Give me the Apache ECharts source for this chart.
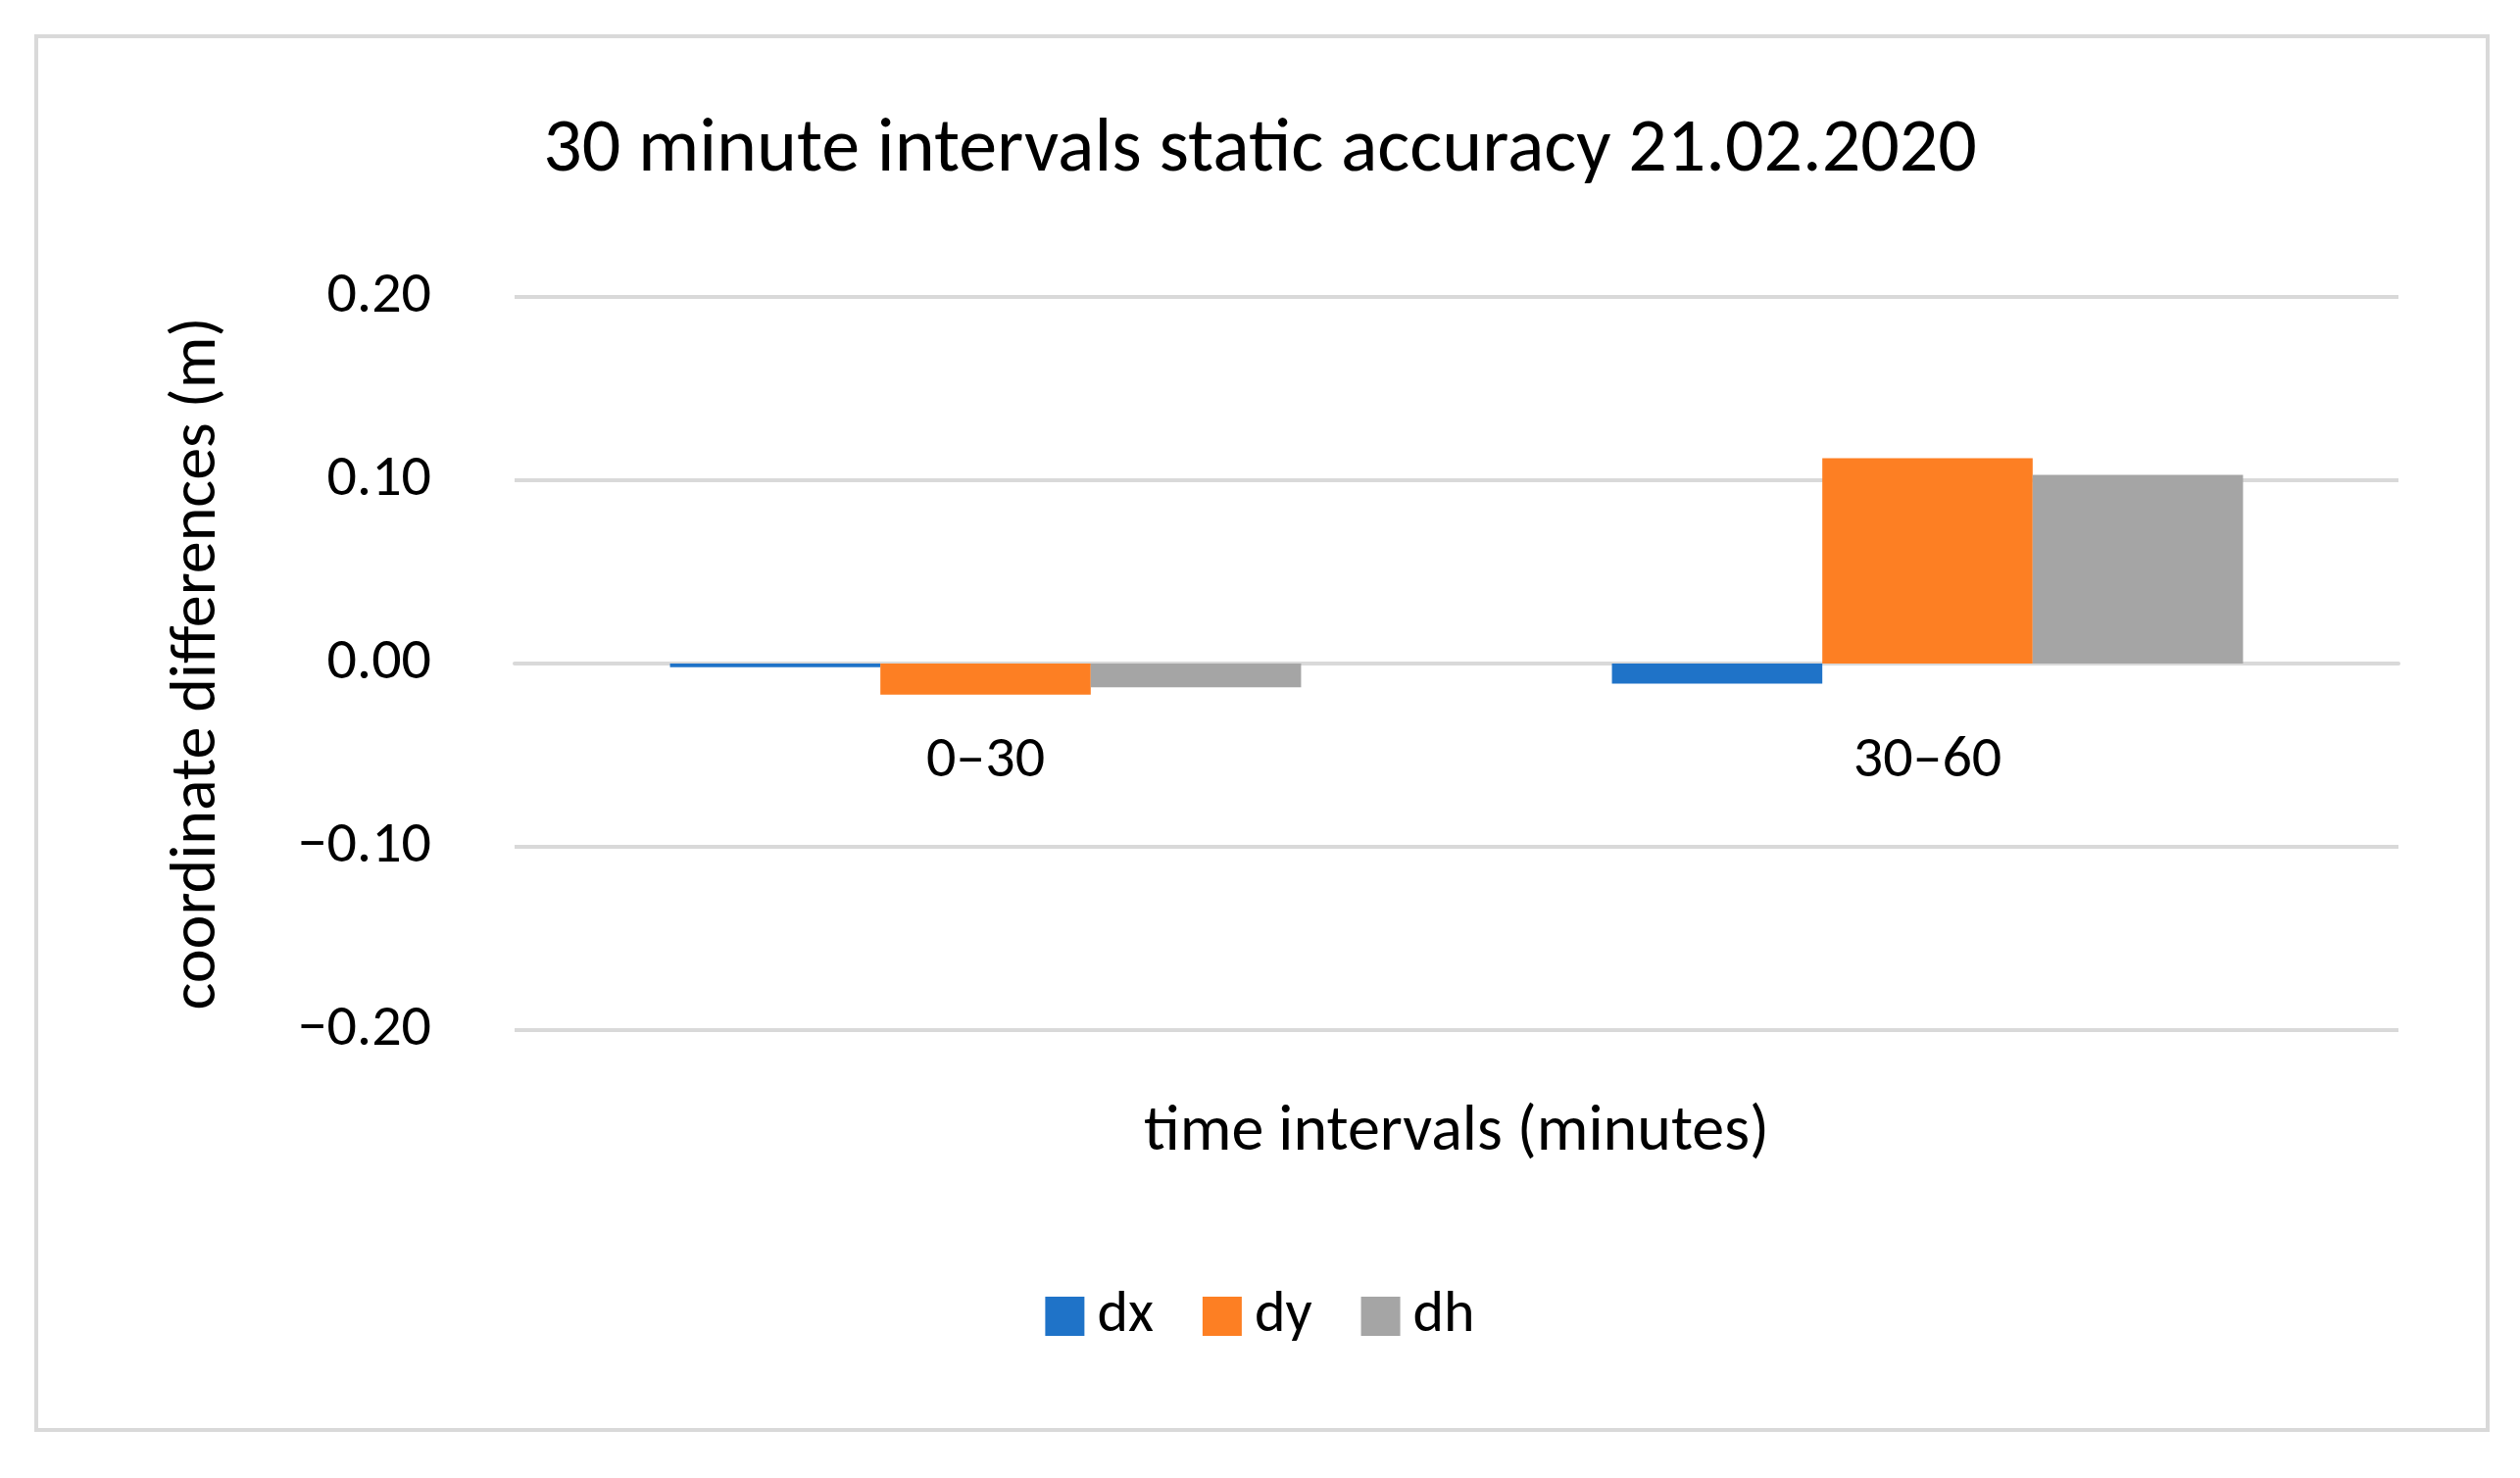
<!DOCTYPE html>
<html>
<head>
<meta charset="utf-8">
<script src="https://cdn.jsdelivr.net/npm/echarts@6/dist/echarts.min.js"></script>
<style>
html,body{margin:0;padding:0;background:#fff;}
#chart{width:2571px;height:1508px;}
</style>
</head>
<body>
<div id="chart"></div>
<script>
var categories = ['0\u201330', '30\u201360'];
var dxValues = [-0.002, -0.011];
var dyValues = [-0.017, 0.112];
var dhValues = [-0.013, 0.103];
var seriesNames = ['dx', 'dy', 'dh'];
var seriesColors = ['#1f73c8', '#fd7f23', '#a5a5a5'];

var font = 'Carlito, Calibri, "Open Sans", sans-serif';
var myChart = echarts.init(document.getElementById('chart'));

function makeSeries(name, data, color){
    return {
        name: name,
        type: 'bar',
        data: data,
        barGap: '0%',
        barCategoryGap: '33%',
        itemStyle: {color: color}
    };
}

var option = {
    backgroundColor: '#fff',
    graphic: [{
        type: 'rect',
        shape: {x: 37, y: 37, width: 2501, height: 1422},
        style: {fill: 'none', stroke: '#d9d9d9', lineWidth: 4}
    }],
    title: {
        text: '30 minute intervals static accuracy 21.02.2020',
        left: 'center',
        top: 110,
        textStyle: {fontFamily: font, fontSize: 78, fontWeight: 'normal', color: '#000'}
    },
    legend: {
        data: seriesNames,
        bottom: 130,
        left: 'center',
        itemWidth: 40,
        itemHeight: 40,
        itemGap: 50,
        icon: 'rect',
        textStyle: {fontFamily: font, fontSize: 60, color: '#000', padding: [0, 0, 0, 8]}
    },
    grid: {left: 525, right: 124, top: 303, bottom: 457, containLabel: false, outerBoundsMode: 'none'},
    xAxis: {
        type: 'category',
        data: categories,
        offset: -374,
        name: 'time intervals (minutes)',
        nameLocation: 'middle',
        nameGap: 446,
        nameTextStyle: {fontFamily: font, fontSize: 66, color: '#000'},
        axisLine: {onZero: false, lineStyle: {color: '#d9d9d9', width: 4}},
        axisTick: {show: false},
        axisLabel: {fontFamily: font, fontSize: 60, color: '#000', margin: 70}
    },
    yAxis: {
        type: 'value',
        min: -0.2,
        max: 0.2,
        interval: 0.1,
        name: 'coordinate differences (m)',
        nameLocation: 'middle',
        nameGap: 290,
        nameTextStyle: {fontFamily: font, fontSize: 66, color: '#000'},
        axisLine: {show: false},
        axisTick: {show: false},
        axisLabel: {
            fontFamily: font, fontSize: 60, color: '#000', margin: 85,
            formatter: function(v){
                var s = Math.abs(v).toFixed(2);
                return v < -1e-9 ? '\u2212' + s : s;
            }
        },
        splitLine: {lineStyle: {color: '#d9d9d9', width: 4}}
    },
    series: [
        makeSeries(seriesNames[0], dxValues, seriesColors[0]),
        makeSeries(seriesNames[1], dyValues, seriesColors[1]),
        makeSeries(seriesNames[2], dhValues, seriesColors[2])
    ]
};

myChart.setOption(option);
</script>
</body>
</html>
